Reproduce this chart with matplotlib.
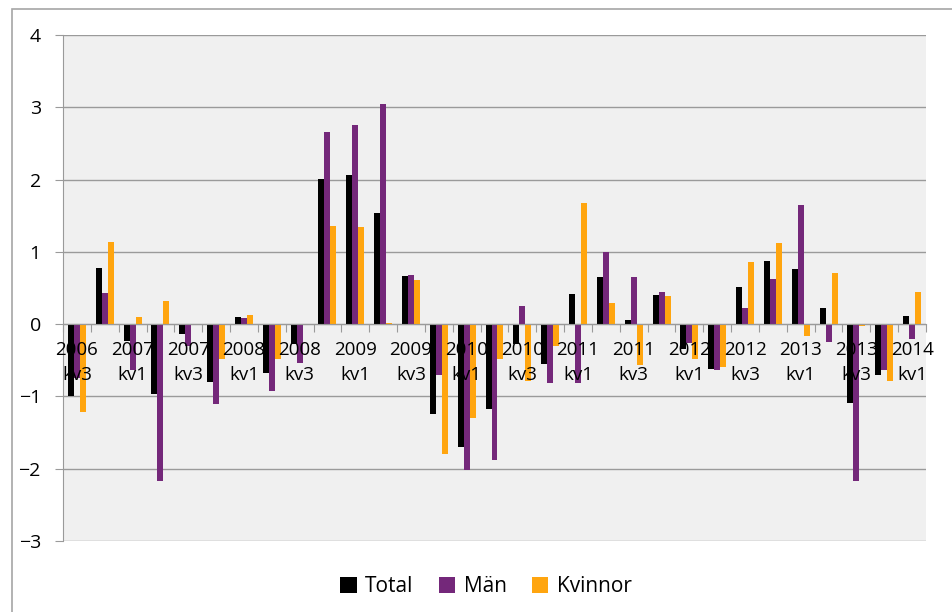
import matplotlib.pyplot as plt
from matplotlib.patches import Rectangle
import numpy as np

# kvartal 2006 kv3 - 2014 kv1
kvartal = ['2006 kv3', '2006 kv4', '2007 kv1', '2007 kv2', '2007 kv3', '2007 kv4',
           '2008 kv1', '2008 kv2', '2008 kv3', '2008 kv4', '2009 kv1', '2009 kv2',
           '2009 kv3', '2009 kv4', '2010 kv1', '2010 kv2', '2010 kv3', '2010 kv4',
           '2011 kv1', '2011 kv2', '2011 kv3', '2011 kv4', '2012 kv1', '2012 kv2',
           '2012 kv3', '2012 kv4', '2013 kv1', '2013 kv2', '2013 kv3', '2013 kv4',
           '2014 kv1']

total = [-1.00, 0.78, -0.23, -0.96, -0.13, -0.80, 0.10, -0.68, -0.27, 2.01, 2.07,
         1.54, 0.66, -1.24, -1.70, -1.18, -0.27, -0.55, 0.42, 0.65, 0.06, 0.41,
         -0.34, -0.62, 0.52, 0.87, 0.76, 0.23, -1.09, -0.71, 0.11]
man = [-0.75, 0.43, -0.63, -2.17, -0.30, -1.11, 0.08, -0.92, -0.54, 2.66, 2.75,
       3.04, 0.68, -0.71, -2.02, -1.88, 0.25, -0.82, -0.82, 1.00, 0.65, 0.45,
       -0.26, -0.63, 0.23, 0.63, 1.65, -0.25, -2.17, -0.64, -0.20]
kvinnor = [-1.21, 1.14, 0.10, 0.32, 0.00, -0.48, 0.12, -0.48, 0.00, 1.36, 1.35,
           0.01, 0.61, -1.79, -1.30, -0.48, -0.79, -0.30, 1.68, 0.29, -0.57, 0.39,
           -0.48, -0.59, 0.86, 1.12, -0.16, 0.71, -0.03, -0.78, 0.45]

plt.rcParams['font.family'] = ['Open Sans', 'DejaVu Sans']

fig = plt.figure(figsize=(9.52, 6.12), dpi=100)
ax = fig.add_axes([63 / 952, 1 - 541 / 612, (926 - 63) / 952, (541 - 35) / 612])

# ram runt diagrammet
fig.patches.append(Rectangle((12 / 952, -0.05), 1.0, 1 - 9 / 612 + 0.05,
                             transform=fig.transFigure, fill=False,
                             edgecolor='#a6a6a6', linewidth=1.2))

x = np.arange(len(kvartal))
w = 0.215
ax.bar(x - w, total, w, color='black', label='Total', zorder=2)
ax.bar(x, man, w, color='#74287a', label='Män', zorder=2)
ax.bar(x + w, kvinnor, w, color='#ffa50f', label='Kvinnor', zorder=2)

ax.set_facecolor('#f0f0f0')
ax.set_xlim(-0.5, len(kvartal) - 0.5)
ax.set_ylim(-3, 4)
ax.set_yticks(range(-3, 5))
for yv in range(-3, 5):
    ax.axhline(yv, color='#9a9a9a', linewidth=1.0, zorder=1)
ax.set_axisbelow(False)  # etiketterna ovanpå staplarna

for s in ['top', 'right']:
    ax.spines[s].set_visible(False)
ax.spines['left'].set_color('#9a9a9a')
ax.spines['bottom'].set_color('#9a9a9a')
ax.spines['bottom'].set_position(('data', 0))

# streck mellan kategorierna, etiketter varannan kategori
ax.set_xticks(np.arange(-0.5, len(kvartal), 1.0))
ax.set_xticklabels([])
ax.tick_params(axis='x', which='major', length=6, color='#9a9a9a', direction='out')
ax.set_xticks(x[::2], minor=True)
ax.set_xticklabels([k.replace(' ', '\n') for k in kvartal[::2]], minor=True,
                   fontsize=13.5, linespacing=1.5)
ax.tick_params(axis='x', which='minor', length=0, pad=12)
ax.tick_params(axis='y', length=6, color='#9a9a9a', labelsize=14, pad=10)

ax.legend(loc='lower center', bbox_to_anchor=(0.49, -0.14), ncol=3, frameon=False,
          fontsize=15, handlelength=0.8, handleheight=0.8, handletextpad=0.4,
          columnspacing=1.2, borderpad=0.2)

fig.savefig('out.png', dpi=100)
